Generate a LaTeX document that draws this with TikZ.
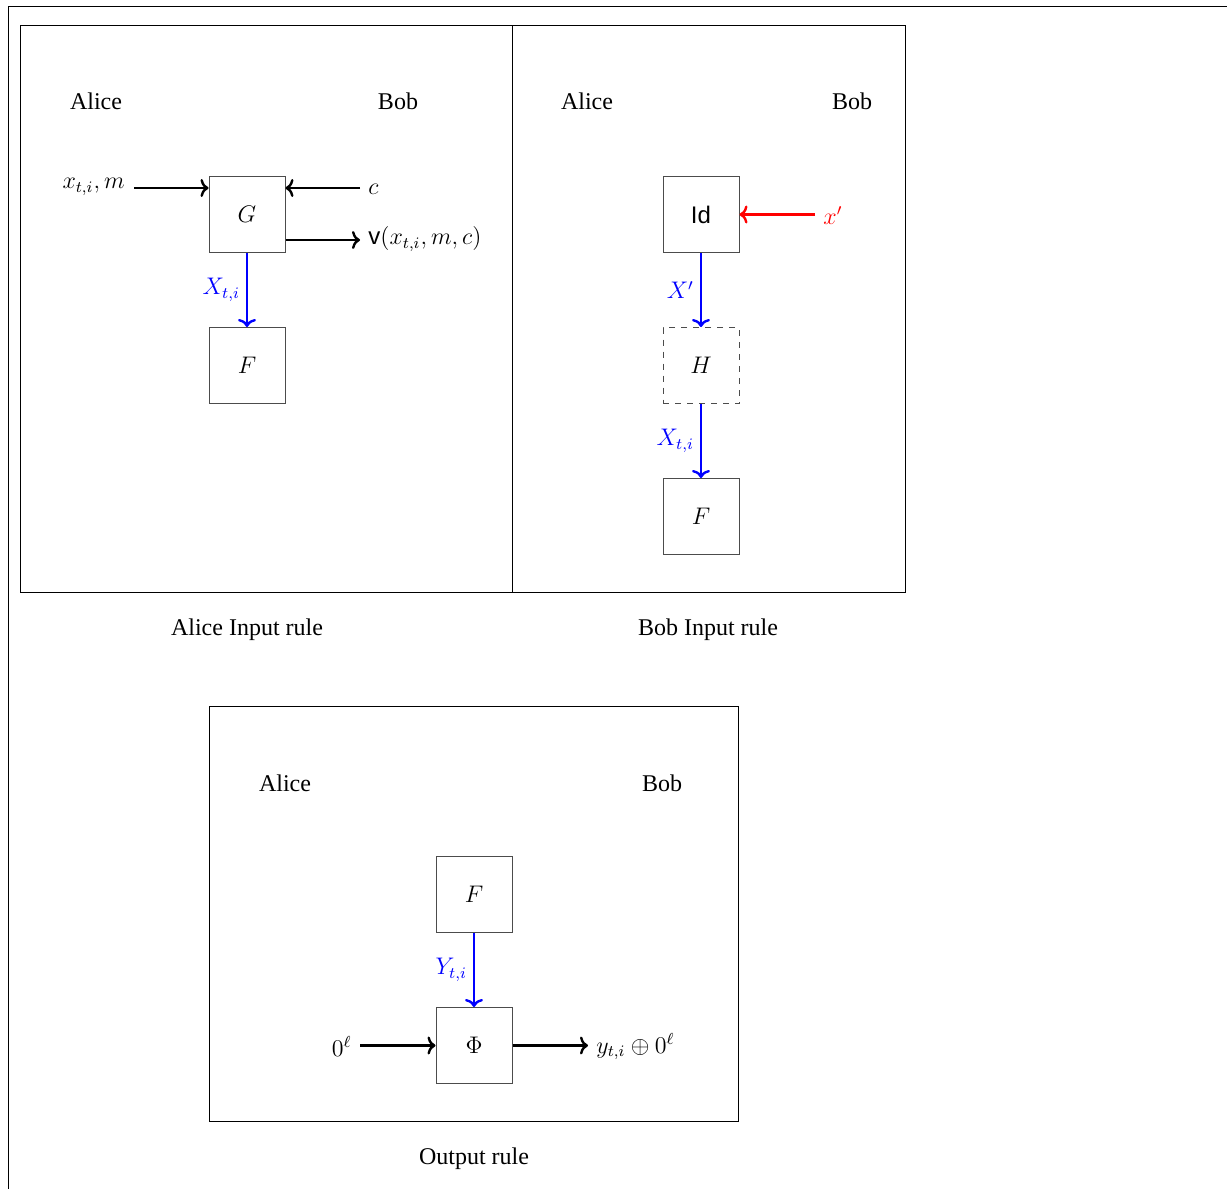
\documentclass[tikz,border=0pt]{standalone}
\usepackage{fontspec}
\setmainfont{Liberation Serif}
\setsansfont{Liberation Sans}
\usetikzlibrary{arrows.meta}
\begin{document}
\begin{tikzpicture}[x=0.5pt,y=-0.5pt,
  every node/.style={font=\fontsize{12}{14}\selectfont, inner sep=1pt},
  blk/.style={draw=black!70, line width=0.5pt, minimum size=38pt, inner sep=0pt},
  dblk/.style={blk, dashed},
  frame/.style={draw=black, line width=0.45pt},
  arr/.style={->, line width=1.2pt, >={To[length=4pt,width=9pt]}},
  barr/.style={arr, blue},
  rarr/.style={arr, red},
  blab/.style={text=blue},
]
\useasboundingbox (0,0) rectangle (1227,1189);
% outer frame (partially outside the view)
\draw[line width=0.45pt] (1240,6) -- (8,6) -- (8,1200);

% ---------- Panel 1 : Alice input rule
\draw[frame] (20,25) rectangle (512,592);
\node (a1) at (96,101) {Alice};
\node (b1) at (398,101) {Bob};
\node[blk] (G) at (247,214.5) {$G$};
\node[blk] (F1) at (247,365.5) {$F$};
\node[anchor=east] (xin) at (127,187) {$x_{t,i}, m$};
\node[anchor=west] (cin) at (366,189) {$c$};
\node[anchor=west] (vout) at (366,239) {\textsf{v}$(x_{t,i}, m, c)$};
\coordinate (xs) at (134,188);
\coordinate (cs) at (360,188);
\coordinate (ve) at (360,240);
\draw[arr] (xs) -- (xs -| G.west);
\draw[arr] (cs) -- (cs -| G.east);
\draw[arr] (ve -| G.east) -- (ve);
\draw[barr] (G.south) -- node[blab, left=2pt] {$X_{t,i}$} (F1.north);
\node (cap1) at (247,630) {Alice Input rule};

% ---------- Panel 2 : Bob input rule
\draw[frame] (512,25) rectangle (905,592);
\node (a2) at (587,101) {Alice};
\node (b2) at (852,101) {Bob};
\node[blk] (Id) at (701,214.5) {\textsf{Id}};
\node[dblk] (H) at (701,365.5) {$H$};
\node[blk] (F2) at (701,516.5) {$F$};
\coordinate (xp) at (815,214.5);
\node[anchor=west, text=red] (xpl) at (821,215.5) {$x'$};
\draw[rarr] (xp) -- (Id.east);
\draw[barr] (Id.south) -- node[blab, left=2pt] {$X'$} (H.north);
\draw[barr] (H.south) -- node[blab, left=2pt] {$X_{t,i}$} (F2.north);
\node (cap2) at (708,630) {Bob Input rule};

% ---------- Panel 3 : Output rule
\draw[frame] (209,706) rectangle (738,1121);
\node (a3) at (285,783) {Alice};
\node (b3) at (662,783) {Bob};
\node[blk] (F3) at (474,894.5) {$F$};
\node[blk] (Phi) at (474,1045.5) {$\Phi$};
\draw[barr] (F3.south) -- node[blab, left=2pt] {$Y_{t,i}$} (Phi.north);
\coordinate (zs) at (360,1045.5);
\coordinate (ye) at (588,1045.5);
\node[anchor=east] (zl) at (354,1046.5) {$0^{\ell}$};
\node[anchor=west] (yl) at (594,1046.5) {$y_{t,i} \oplus 0^{\ell}$};
\draw[arr] (zs) -- (Phi.west);
\draw[arr] (Phi.east) -- (ye);
\node (cap3) at (474,1159) {Output rule};
\end{tikzpicture}
\end{document}
